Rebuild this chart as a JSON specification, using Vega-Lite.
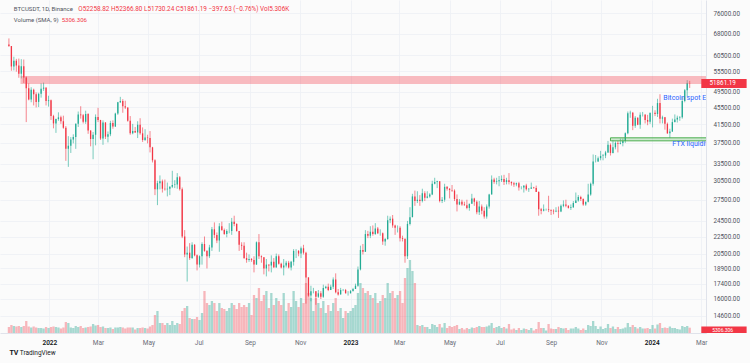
{
"$schema":"https://vega.github.io/schema/vega-lite/v6.json",
"width":706,"height":333,
"autosize":{"type":"none"},
"padding":{"left":0,"top":0,"right":44,"bottom":30},
"background":"#fbfbfb",
"config":{"view":{"stroke":null},"font":"Roboto"},
"datasets":{"btc":[
{"t":"2021-11-13","o":64100,"h":66300,"l":63300,"c":63600,"v":6000},
{"t":"2021-11-16","o":63600,"h":63600,"l":55600,"c":56900,"v":8000},
{"t":"2021-11-19","o":56900,"h":60000,"l":55700,"c":58700,"v":7000},
{"t":"2021-11-22","o":58700,"h":59300,"l":55300,"c":57200,"v":6500},
{"t":"2021-11-25","o":57200,"h":59400,"l":53500,"c":54700,"v":7000},
{"t":"2021-11-28","o":54700,"h":59200,"l":53300,"c":57000,"v":6000},
{"t":"2021-12-01","o":57000,"h":59100,"l":52000,"c":53600,"v":7000},
{"t":"2021-12-04","o":53600,"h":53900,"l":42000,"c":50500,"v":12000},
{"t":"2021-12-07","o":50500,"h":51900,"l":47300,"c":47500,"v":6500},
{"t":"2021-12-10","o":47500,"h":50800,"l":46800,"c":50100,"v":5500},
{"t":"2021-12-13","o":50100,"h":50400,"l":46000,"c":48900,"v":6500},
{"t":"2021-12-16","o":48900,"h":49400,"l":45500,"c":46900,"v":5500},
{"t":"2021-12-19","o":46900,"h":49300,"l":45600,"c":49000,"v":5000},
{"t":"2021-12-22","o":49000,"h":51900,"l":48000,"c":50400,"v":5000},
{"t":"2021-12-25","o":50400,"h":52100,"l":49800,"c":50700,"v":4500},
{"t":"2021-12-28","o":50700,"h":50700,"l":46000,"c":47100,"v":6000},
{"t":"2021-12-31","o":47100,"h":48500,"l":45700,"c":47300,"v":5000},
{"t":"2022-01-03","o":47300,"h":47500,"l":42500,"c":43400,"v":6000},
{"t":"2022-01-06","o":43400,"h":43700,"l":40600,"c":41700,"v":6500},
{"t":"2022-01-09","o":41700,"h":42800,"l":39600,"c":42700,"v":6000},
{"t":"2022-01-12","o":42700,"h":44300,"l":42300,"c":43100,"v":5500},
{"t":"2022-01-15","o":43100,"h":43500,"l":41600,"c":42200,"v":4500},
{"t":"2022-01-18","o":42200,"h":43500,"l":40500,"c":40700,"v":5500},
{"t":"2022-01-21","o":40700,"h":41100,"l":34000,"c":36300,"v":11000},
{"t":"2022-01-24","o":36300,"h":38900,"l":32900,"c":36900,"v":10000},
{"t":"2022-01-27","o":36900,"h":38700,"l":35500,"c":38200,"v":5500},
{"t":"2022-01-30","o":38200,"h":39300,"l":37400,"c":38700,"v":5000},
{"t":"2022-02-02","o":38700,"h":41700,"l":36300,"c":41600,"v":7000},
{"t":"2022-02-05","o":41600,"h":44500,"l":40900,"c":43800,"v":6000},
{"t":"2022-02-08","o":43800,"h":45800,"l":42800,"c":43600,"v":7000},
{"t":"2022-02-11","o":43600,"h":43900,"l":41700,"c":42100,"v":5000},
{"t":"2022-02-14","o":42100,"h":44700,"l":41600,"c":43900,"v":5500},
{"t":"2022-02-17","o":43900,"h":44100,"l":39400,"c":40100,"v":6000},
{"t":"2022-02-20","o":40100,"h":40200,"l":36800,"c":38300,"v":6500},
{"t":"2022-02-23","o":38300,"h":39800,"l":34300,"c":39200,"v":9000},
{"t":"2022-02-26","o":39200,"h":43800,"l":37000,"c":43200,"v":7500},
{"t":"2022-03-01","o":43200,"h":45400,"l":42000,"c":42500,"v":8000},
{"t":"2022-03-04","o":42500,"h":42500,"l":38100,"c":38400,"v":6000},
{"t":"2022-03-07","o":38400,"h":42400,"l":37100,"c":41900,"v":6500},
{"t":"2022-03-10","o":41900,"h":42000,"l":38300,"c":38800,"v":5000},
{"t":"2022-03-13","o":38800,"h":39900,"l":37600,"c":39300,"v":5000},
{"t":"2022-03-16","o":39300,"h":42300,"l":38900,"c":41800,"v":5500},
{"t":"2022-03-19","o":41800,"h":42400,"l":40500,"c":41000,"v":4000},
{"t":"2022-03-22","o":41000,"h":44200,"l":40900,"c":44000,"v":5500},
{"t":"2022-03-25","o":44000,"h":46900,"l":43700,"c":46800,"v":5500},
{"t":"2022-03-28","o":46800,"h":48200,"l":46600,"c":47100,"v":6000},
{"t":"2022-03-31","o":47100,"h":47600,"l":44200,"c":45800,"v":5500},
{"t":"2022-04-03","o":45800,"h":47200,"l":45100,"c":45500,"v":4500},
{"t":"2022-04-06","o":45500,"h":45500,"l":42100,"c":42300,"v":5500},
{"t":"2022-04-09","o":42300,"h":43400,"l":39200,"c":39500,"v":5500},
{"t":"2022-04-12","o":39500,"h":41600,"l":39300,"c":40000,"v":5500},
{"t":"2022-04-15","o":40000,"h":40900,"l":39600,"c":39700,"v":3500},
{"t":"2022-04-18","o":39700,"h":42200,"l":38500,"c":41400,"v":5000},
{"t":"2022-04-21","o":41400,"h":42900,"l":39200,"c":39500,"v":5000},
{"t":"2022-04-24","o":39500,"h":40800,"l":37700,"c":38100,"v":5500},
{"t":"2022-04-27","o":38100,"h":40400,"l":37900,"c":38600,"v":5000},
{"t":"2022-04-30","o":38600,"h":39200,"l":37400,"c":38500,"v":4500},
{"t":"2022-05-03","o":38500,"h":40000,"l":35600,"c":36600,"v":6500},
{"t":"2022-05-06","o":36600,"h":36700,"l":33700,"c":34100,"v":8000},
{"t":"2022-05-09","o":34100,"h":34300,"l":28200,"c":29100,"v":18000},
{"t":"2022-05-12","o":29100,"h":30500,"l":26700,"c":30100,"v":22000},
{"t":"2022-05-15","o":30100,"h":31400,"l":29100,"c":30400,"v":10000},
{"t":"2022-05-18","o":30400,"h":30700,"l":28600,"c":29200,"v":10000},
{"t":"2022-05-21","o":29200,"h":30700,"l":28900,"c":29100,"v":8000},
{"t":"2022-05-24","o":29100,"h":30200,"l":28000,"c":29200,"v":10000},
{"t":"2022-05-27","o":29200,"h":29600,"l":28200,"c":29500,"v":8000},
{"t":"2022-05-30","o":29500,"h":32200,"l":29300,"c":29800,"v":12000},
{"t":"2022-06-02","o":29800,"h":30600,"l":29300,"c":29900,"v":8000},
{"t":"2022-06-05","o":29900,"h":31800,"l":29200,"c":31100,"v":10000},
{"t":"2022-06-08","o":31100,"h":31300,"l":28900,"c":29100,"v":9000},
{"t":"2022-06-11","o":29100,"h":29400,"l":22300,"c":22500,"v":22000},
{"t":"2022-06-14","o":22500,"h":23300,"l":20100,"c":20400,"v":25000},
{"t":"2022-06-17","o":20400,"h":21300,"l":17600,"c":20600,"v":27000},
{"t":"2022-06-20","o":20600,"h":21700,"l":19800,"c":20000,"v":15000},
{"t":"2022-06-23","o":20000,"h":21800,"l":19900,"c":21500,"v":14000},
{"t":"2022-06-26","o":21500,"h":21600,"l":20200,"c":20300,"v":14000},
{"t":"2022-06-29","o":20300,"h":20400,"l":18700,"c":19300,"v":16000},
{"t":"2022-07-02","o":19300,"h":20300,"l":19000,"c":20200,"v":13000},
{"t":"2022-07-05","o":20200,"h":21800,"l":19300,"c":21600,"v":20000},
{"t":"2022-07-08","o":21600,"h":22500,"l":20700,"c":20800,"v":42000},
{"t":"2022-07-11","o":20800,"h":20900,"l":18900,"c":20200,"v":30000},
{"t":"2022-07-14","o":20200,"h":21500,"l":20000,"c":21200,"v":28000},
{"t":"2022-07-17","o":21200,"h":23700,"l":20800,"c":23400,"v":32000},
{"t":"2022-07-20","o":23400,"h":24300,"l":22300,"c":22700,"v":30000},
{"t":"2022-07-23","o":22700,"h":23000,"l":21700,"c":22000,"v":22000},
{"t":"2022-07-26","o":22000,"h":24200,"l":20700,"c":23800,"v":30000},
{"t":"2022-07-29","o":23800,"h":24400,"l":23200,"c":23300,"v":25000},
{"t":"2022-08-01","o":23300,"h":23500,"l":22700,"c":22800,"v":24000},
{"t":"2022-08-04","o":22800,"h":23400,"l":22400,"c":23200,"v":22000},
{"t":"2022-08-07","o":23200,"h":24200,"l":22900,"c":23200,"v":25000},
{"t":"2022-08-10","o":23200,"h":24900,"l":22700,"c":24400,"v":30000},
{"t":"2022-08-13","o":24400,"h":25200,"l":23800,"c":24100,"v":28000},
{"t":"2022-08-16","o":24100,"h":24200,"l":23100,"c":23200,"v":24000},
{"t":"2022-08-19","o":23200,"h":23200,"l":20800,"c":21500,"v":30000},
{"t":"2022-08-22","o":21500,"h":21800,"l":20900,"c":21400,"v":26000},
{"t":"2022-08-25","o":21400,"h":21800,"l":19900,"c":20000,"v":28000},
{"t":"2022-08-28","o":20000,"h":20600,"l":19500,"c":19800,"v":26000},
{"t":"2022-08-31","o":19800,"h":20400,"l":19600,"c":19900,"v":30000},
{"t":"2022-09-03","o":19900,"h":20000,"l":19600,"c":19800,"v":18000},
{"t":"2022-09-06","o":19800,"h":20200,"l":18500,"c":19300,"v":38000},
{"t":"2022-09-09","o":19300,"h":21900,"l":19300,"c":21800,"v":35000},
{"t":"2022-09-12","o":21800,"h":22800,"l":19900,"c":20200,"v":45000},
{"t":"2022-09-15","o":20200,"h":20300,"l":19500,"c":20100,"v":32000},
{"t":"2022-09-18","o":20100,"h":20100,"l":18300,"c":18900,"v":38000},
{"t":"2022-09-21","o":18900,"h":19900,"l":18100,"c":19300,"v":42000},
{"t":"2022-09-24","o":19300,"h":19300,"l":18600,"c":19200,"v":25000},
{"t":"2022-09-27","o":19200,"h":20300,"l":18500,"c":19600,"v":40000},
{"t":"2022-09-30","o":19600,"h":20000,"l":19000,"c":19000,"v":28000},
{"t":"2022-10-03","o":19000,"h":20500,"l":19000,"c":20200,"v":35000},
{"t":"2022-10-06","o":20200,"h":20400,"l":19300,"c":19400,"v":32000},
{"t":"2022-10-09","o":19400,"h":19500,"l":18900,"c":19000,"v":28000},
{"t":"2022-10-12","o":19000,"h":19900,"l":18200,"c":19200,"v":40000},
{"t":"2022-10-15","o":19200,"h":19700,"l":19000,"c":19500,"v":22000},
{"t":"2022-10-18","o":19500,"h":19700,"l":18900,"c":19000,"v":30000},
{"t":"2022-10-21","o":19000,"h":19700,"l":18700,"c":19600,"v":26000},
{"t":"2022-10-24","o":19600,"h":21000,"l":19200,"c":20800,"v":42000},
{"t":"2022-10-27","o":20800,"h":21000,"l":20000,"c":20800,"v":32000},
{"t":"2022-10-30","o":20800,"h":20900,"l":20200,"c":20500,"v":26000},
{"t":"2022-11-02","o":20500,"h":21300,"l":20000,"c":21100,"v":35000},
{"t":"2022-11-05","o":21100,"h":21500,"l":20400,"c":20600,"v":30000},
{"t":"2022-11-08","o":20600,"h":20700,"l":15600,"c":18000,"v":50000},
{"t":"2022-11-11","o":18000,"h":18000,"l":16200,"c":16300,"v":40000},
{"t":"2022-11-14","o":16300,"h":17200,"l":15800,"c":16700,"v":35000},
{"t":"2022-11-17","o":16700,"h":17000,"l":16500,"c":16700,"v":22000},
{"t":"2022-11-20","o":16700,"h":16700,"l":15500,"c":16200,"v":35000},
{"t":"2022-11-23","o":16200,"h":16800,"l":16100,"c":16500,"v":30000},
{"t":"2022-11-26","o":16500,"h":16700,"l":16000,"c":16200,"v":25000},
{"t":"2022-11-29","o":16200,"h":17300,"l":16100,"c":17000,"v":32000},
{"t":"2022-12-02","o":17000,"h":17200,"l":16900,"c":17100,"v":20000},
{"t":"2022-12-05","o":17100,"h":17400,"l":16700,"c":16800,"v":28000},
{"t":"2022-12-08","o":16800,"h":17300,"l":16800,"c":17100,"v":22000},
{"t":"2022-12-11","o":17100,"h":18000,"l":16900,"c":17800,"v":30000},
{"t":"2022-12-14","o":17800,"h":18400,"l":16500,"c":16600,"v":35000},
{"t":"2022-12-17","o":16600,"h":16900,"l":16300,"c":16400,"v":22000},
{"t":"2022-12-20","o":16400,"h":17000,"l":16400,"c":16800,"v":25000},
{"t":"2022-12-23","o":16800,"h":16900,"l":16700,"c":16800,"v":15000},
{"t":"2022-12-26","o":16800,"h":16900,"l":16500,"c":16500,"v":22000},
{"t":"2022-12-29","o":16500,"h":16700,"l":16300,"c":16500,"v":20000},
{"t":"2023-01-01","o":16500,"h":16800,"l":16500,"c":16700,"v":22000},
{"t":"2023-01-04","o":16700,"h":17000,"l":16700,"c":16900,"v":25000},
{"t":"2023-01-07","o":16900,"h":17400,"l":16900,"c":17200,"v":28000},
{"t":"2023-01-10","o":17200,"h":19100,"l":17100,"c":18800,"v":40000},
{"t":"2023-01-13","o":18800,"h":21400,"l":18700,"c":20900,"v":50000},
{"t":"2023-01-16","o":20900,"h":21600,"l":20400,"c":20700,"v":45000},
{"t":"2023-01-19","o":20700,"h":23300,"l":20700,"c":22800,"v":40000},
{"t":"2023-01-22","o":22800,"h":23200,"l":22300,"c":22600,"v":42000},
{"t":"2023-01-25","o":22600,"h":23800,"l":22300,"c":23100,"v":38000},
{"t":"2023-01-28","o":23100,"h":23900,"l":22600,"c":22800,"v":35000},
{"t":"2023-01-31","o":22800,"h":24200,"l":22700,"c":23500,"v":40000},
{"t":"2023-02-03","o":23500,"h":23700,"l":22800,"c":22900,"v":30000},
{"t":"2023-02-06","o":22900,"h":23400,"l":22600,"c":22900,"v":32000},
{"t":"2023-02-09","o":22900,"h":23000,"l":21500,"c":21900,"v":38000},
{"t":"2023-02-12","o":21900,"h":22300,"l":21400,"c":22200,"v":35000},
{"t":"2023-02-15","o":22200,"h":25200,"l":22100,"c":24600,"v":50000},
{"t":"2023-02-18","o":24600,"h":25100,"l":24200,"c":24800,"v":40000},
{"t":"2023-02-21","o":24800,"h":25300,"l":23600,"c":23900,"v":42000},
{"t":"2023-02-24","o":23900,"h":24000,"l":22700,"c":23600,"v":35000},
{"t":"2023-02-27","o":23600,"h":23900,"l":23000,"c":23600,"v":38000},
{"t":"2023-03-02","o":23600,"h":23800,"l":21900,"c":22300,"v":42000},
{"t":"2023-03-05","o":22300,"h":22600,"l":21900,"c":22200,"v":30000},
{"t":"2023-03-08","o":22200,"h":22300,"l":19500,"c":20200,"v":55000},
{"t":"2023-03-11","o":20200,"h":24500,"l":19900,"c":24100,"v":65000},
{"t":"2023-03-14","o":24100,"h":26400,"l":23900,"c":25000,"v":73000},
{"t":"2023-03-17","o":25000,"h":28400,"l":25000,"c":28000,"v":62000},
{"t":"2023-03-20","o":28000,"h":28900,"l":26600,"c":27300,"v":50000},
{"t":"2023-03-23","o":27300,"h":28800,"l":27000,"c":27500,"v":8000},
{"t":"2023-03-26","o":27500,"h":28200,"l":26600,"c":27300,"v":7000},
{"t":"2023-03-29","o":27300,"h":29200,"l":27100,"c":28500,"v":8000},
{"t":"2023-04-01","o":28500,"h":28800,"l":27300,"c":27800,"v":6000},
{"t":"2023-04-04","o":27800,"h":28800,"l":27700,"c":28000,"v":6000},
{"t":"2023-04-07","o":28000,"h":28500,"l":27800,"c":28300,"v":4000},
{"t":"2023-04-10","o":28300,"h":30500,"l":28200,"c":30000,"v":9000},
{"t":"2023-04-13","o":30000,"h":31000,"l":29900,"c":30300,"v":8000},
{"t":"2023-04-16","o":30300,"h":30500,"l":29300,"c":30400,"v":6000},
{"t":"2023-04-19","o":30400,"h":30400,"l":27100,"c":27300,"v":9000},
{"t":"2023-04-22","o":27300,"h":27900,"l":27000,"c":27500,"v":5500},
{"t":"2023-04-25","o":27500,"h":30000,"l":27200,"c":29500,"v":10000},
{"t":"2023-04-28","o":29500,"h":29600,"l":28900,"c":29200,"v":5000},
{"t":"2023-05-01","o":29200,"h":29300,"l":27700,"c":29000,"v":7000},
{"t":"2023-05-04","o":29000,"h":29800,"l":28700,"c":28900,"v":6000},
{"t":"2023-05-07","o":28900,"h":29100,"l":27300,"c":27600,"v":7000},
{"t":"2023-05-10","o":27600,"h":28300,"l":25800,"c":26800,"v":8000},
{"t":"2023-05-13","o":26800,"h":27600,"l":26700,"c":27200,"v":4000},
{"t":"2023-05-16","o":27200,"h":27500,"l":26600,"c":26800,"v":5000},
{"t":"2023-05-19","o":26800,"h":27200,"l":26600,"c":26700,"v":3500},
{"t":"2023-05-22","o":26700,"h":27500,"l":26100,"c":26300,"v":5000},
{"t":"2023-05-25","o":26300,"h":26900,"l":25900,"c":26900,"v":4000},
{"t":"2023-05-28","o":26900,"h":28400,"l":26900,"c":27700,"v":5500},
{"t":"2023-05-31","o":27700,"h":27800,"l":26600,"c":27200,"v":5000},
{"t":"2023-06-03","o":27200,"h":27400,"l":25400,"c":25700,"v":6000},
{"t":"2023-06-06","o":25700,"h":27300,"l":25300,"c":26500,"v":7000},
{"t":"2023-06-09","o":26500,"h":26800,"l":25400,"c":25900,"v":6000},
{"t":"2023-06-12","o":25900,"h":26400,"l":24800,"c":25100,"v":6000},
{"t":"2023-06-15","o":25100,"h":26800,"l":24800,"c":26500,"v":6500},
{"t":"2023-06-18","o":26500,"h":28400,"l":26200,"c":28300,"v":7500},
{"t":"2023-06-21","o":28300,"h":31400,"l":28300,"c":30700,"v":10000},
{"t":"2023-06-24","o":30700,"h":31000,"l":30000,"c":30300,"v":5000},
{"t":"2023-06-27","o":30300,"h":31000,"l":29900,"c":30400,"v":6000},
{"t":"2023-06-30","o":30400,"h":31300,"l":29600,"c":30600,"v":7000},
{"t":"2023-07-03","o":30600,"h":31400,"l":30300,"c":30800,"v":5000},
{"t":"2023-07-06","o":30800,"h":31500,"l":29800,"c":30300,"v":6000},
{"t":"2023-07-09","o":30300,"h":31000,"l":29900,"c":30600,"v":4500},
{"t":"2023-07-12","o":30600,"h":31800,"l":29900,"c":30300,"v":9000},
{"t":"2023-07-15","o":30300,"h":30400,"l":29700,"c":30100,"v":3500},
{"t":"2023-07-18","o":30100,"h":30300,"l":29500,"c":29900,"v":4500},
{"t":"2023-07-21","o":29900,"h":30200,"l":29600,"c":30100,"v":3000},
{"t":"2023-07-24","o":30100,"h":30300,"l":28900,"c":29400,"v":5000},
{"t":"2023-07-27","o":29400,"h":29600,"l":29100,"c":29400,"v":3000},
{"t":"2023-07-30","o":29400,"h":29700,"l":28600,"c":29700,"v":4500},
{"t":"2023-08-02","o":29700,"h":30000,"l":28900,"c":29100,"v":4000},
{"t":"2023-08-05","o":29100,"h":29300,"l":28700,"c":29200,"v":3000},
{"t":"2023-08-08","o":29200,"h":30200,"l":29200,"c":29400,"v":5000},
{"t":"2023-08-11","o":29400,"h":29500,"l":29200,"c":29300,"v":2500},
{"t":"2023-08-14","o":29300,"h":29700,"l":28700,"c":28700,"v":4000},
{"t":"2023-08-17","o":28700,"h":28800,"l":25200,"c":26100,"v":11000},
{"t":"2023-08-20","o":26100,"h":26300,"l":25400,"c":25900,"v":5000},
{"t":"2023-08-23","o":25900,"h":26800,"l":25800,"c":26100,"v":5000},
{"t":"2023-08-26","o":26100,"h":26200,"l":25900,"c":26100,"v":2500},
{"t":"2023-08-29","o":26100,"h":28100,"l":25700,"c":26000,"v":9000},
{"t":"2023-09-01","o":26000,"h":26100,"l":25300,"c":25900,"v":4500},
{"t":"2023-09-04","o":25900,"h":26100,"l":25400,"c":25800,"v":4000},
{"t":"2023-09-07","o":25800,"h":26400,"l":25700,"c":25900,"v":4000},
{"t":"2023-09-10","o":25900,"h":26500,"l":24900,"c":25800,"v":6000},
{"t":"2023-09-13","o":25800,"h":26800,"l":25700,"c":26600,"v":5000},
{"t":"2023-09-16","o":26600,"h":27400,"l":26400,"c":26800,"v":4500},
{"t":"2023-09-19","o":26800,"h":27500,"l":26400,"c":26600,"v":5000},
{"t":"2023-09-22","o":26600,"h":26700,"l":26200,"c":26300,"v":3000},
{"t":"2023-09-25","o":26300,"h":26800,"l":26000,"c":26400,"v":4500},
{"t":"2023-09-28","o":26400,"h":27300,"l":26300,"c":27000,"v":4500},
{"t":"2023-10-01","o":27000,"h":28600,"l":27000,"c":27400,"v":6000},
{"t":"2023-10-04","o":27400,"h":28200,"l":27200,"c":27900,"v":4500},
{"t":"2023-10-07","o":27900,"h":28100,"l":27300,"c":27600,"v":3000},
{"t":"2023-10-10","o":27600,"h":27700,"l":26600,"c":26800,"v":4500},
{"t":"2023-10-13","o":26800,"h":27200,"l":26600,"c":27200,"v":3000},
{"t":"2023-10-16","o":27200,"h":30000,"l":27100,"c":28300,"v":8000},
{"t":"2023-10-19","o":28300,"h":30200,"l":28100,"c":30000,"v":7000},
{"t":"2023-10-22","o":30000,"h":35200,"l":29700,"c":33900,"v":12000},
{"t":"2023-10-25","o":33900,"h":35100,"l":33700,"c":33900,"v":7000},
{"t":"2023-10-28","o":33900,"h":34800,"l":33800,"c":34500,"v":4000},
{"t":"2023-10-31","o":34500,"h":35900,"l":34100,"c":34900,"v":6500},
{"t":"2023-11-03","o":34900,"h":35300,"l":34100,"c":35000,"v":4000},
{"t":"2023-11-06","o":35000,"h":35900,"l":34500,"c":35600,"v":5000},
{"t":"2023-11-09","o":35600,"h":37900,"l":35500,"c":37100,"v":9000},
{"t":"2023-11-12","o":37100,"h":37400,"l":35000,"c":35500,"v":5000},
{"t":"2023-11-15","o":35500,"h":38000,"l":35400,"c":36600,"v":6500},
{"t":"2023-11-18","o":36600,"h":37800,"l":36200,"c":37500,"v":4000},
{"t":"2023-11-21","o":37500,"h":37900,"l":35600,"c":37300,"v":6000},
{"t":"2023-11-24","o":37300,"h":38400,"l":37200,"c":37500,"v":4000},
{"t":"2023-11-27","o":37500,"h":38400,"l":36800,"c":37900,"v":4500},
{"t":"2023-11-30","o":37900,"h":39700,"l":37500,"c":39500,"v":5500},
{"t":"2023-12-03","o":39500,"h":44500,"l":39300,"c":44100,"v":10000},
{"t":"2023-12-06","o":44100,"h":44700,"l":43000,"c":44200,"v":6000},
{"t":"2023-12-09","o":44200,"h":44400,"l":40200,"c":41200,"v":8000},
{"t":"2023-12-12","o":41200,"h":43400,"l":40700,"c":43000,"v":6000},
{"t":"2023-12-15","o":43000,"h":43100,"l":41300,"c":41400,"v":4500},
{"t":"2023-12-18","o":41400,"h":44300,"l":40500,"c":43700,"v":6000},
{"t":"2023-12-21","o":43700,"h":44400,"l":43300,"c":43700,"v":4500},
{"t":"2023-12-24","o":43700,"h":43900,"l":41700,"c":42500,"v":4500},
{"t":"2023-12-27","o":42500,"h":43700,"l":41300,"c":42100,"v":5000},
{"t":"2023-12-30","o":42100,"h":44200,"l":41600,"c":44200,"v":4000},
{"t":"2024-01-02","o":44200,"h":45900,"l":40800,"c":44200,"v":8000},
{"t":"2024-01-05","o":44200,"h":44800,"l":43400,"c":43900,"v":4500},
{"t":"2024-01-08","o":43900,"h":47700,"l":43200,"c":46600,"v":8500},
{"t":"2024-01-11","o":46600,"h":48900,"l":41700,"c":42800,"v":10000},
{"t":"2024-01-14","o":42800,"h":43500,"l":41700,"c":43100,"v":5000},
{"t":"2024-01-17","o":43100,"h":43200,"l":40300,"c":41600,"v":5500},
{"t":"2024-01-20","o":41600,"h":41900,"l":39400,"c":39500,"v":5000},
{"t":"2024-01-23","o":39500,"h":40500,"l":38500,"c":39900,"v":6500},
{"t":"2024-01-26","o":39900,"h":42800,"l":39800,"c":42000,"v":5000},
{"t":"2024-01-29","o":42000,"h":43800,"l":41900,"c":42600,"v":5000},
{"t":"2024-02-01","o":42600,"h":43500,"l":41900,"c":43000,"v":4000},
{"t":"2024-02-04","o":43000,"h":43400,"l":42300,"c":43100,"v":3500},
{"t":"2024-02-07","o":43100,"h":48200,"l":42800,"c":47100,"v":7000},
{"t":"2024-02-10","o":47100,"h":50300,"l":46800,"c":50000,"v":6000},
{"t":"2024-02-13","o":50000,"h":52800,"l":48300,"c":51900,"v":7000},
{"t":"2024-02-16","o":51900,"h":52600,"l":50600,"c":51861.19,"v":5306}
]},
"layer":[
 {"layer":[
  {"data":{"name":"btc"},
   "mark":{"type":"bar","width":2.3,"opacity":0.35},
   "encoding":{
    "x":{"field":"t","type":"temporal","title":null,
     "scale":{"type":"utc","domain":[{"year":2021,"month":11,"date":8,"hours":6,"utc":true},{"year":2024,"month":2,"date":29,"hours":17,"utc":true}]},
     "axis":{"values":[
       {"year":2022,"month":1,"date":1,"utc":true},{"year":2022,"month":3,"date":1,"utc":true},{"year":2022,"month":5,"date":1,"utc":true},{"year":2022,"month":7,"date":1,"utc":true},{"year":2022,"month":9,"date":1,"utc":true},{"year":2022,"month":11,"date":1,"utc":true},
       {"year":2023,"month":1,"date":1,"utc":true},{"year":2023,"month":3,"date":1,"utc":true},{"year":2023,"month":5,"date":1,"utc":true},{"year":2023,"month":7,"date":1,"utc":true},{"year":2023,"month":9,"date":1,"utc":true},{"year":2023,"month":11,"date":1,"utc":true},
       {"year":2024,"month":1,"date":1,"utc":true},{"year":2024,"month":3,"date":1,"utc":true}],
      "labelExpr":"utcmonth(datum.value) == 0 ? utcFormat(datum.value, '%Y') : utcFormat(datum.value, '%b')",
      "labelFontSize":6.5,"labelFont":"Roboto",
      "labelColor":{"condition":{"test":"utcmonth(datum.value) == 0","value":"#131722"},"value":"#6a6d78"},
      "labelFontWeight":{"condition":{"test":"utcmonth(datum.value) == 0","value":600},"value":400},
      "ticks":false,"domain":true,"domainColor":"#e0e3eb","grid":true,"gridColor":"#eef0f5","gridWidth":0.8,
      "labelPadding":6,"labelOverlap":false,"labelFlush":false}},
    "y":{"field":"v","type":"quantitative","scale":{"domain":[0,333000],"nice":false},"axis":null},
    "color":{"condition":{"test":"datum.c >= datum.o","value":"#089981"},"value":"#f23645"}
   }},
  {"data":{"values":[{}]},
   "mark":{"type":"rect","color":"#f23645"},
   "encoding":{
    "x":{"datum":{"year":2024,"month":3,"date":1,"hours":2,"utc":true},"type":"temporal"},
    "x2":{"datum":{"year":2024,"month":4,"date":25,"utc":true}},
    "y":{"datum":0,"type":"quantitative"},
    "y2":{"datum":6500}}},
  {"data":{"values":[{}]},
   "mark":{"type":"text","text":"5306.306","color":"#ffffff","fontSize":5,"align":"center","baseline":"middle","font":"Roboto"},
   "encoding":{
    "x":{"datum":{"year":2024,"month":3,"date":27,"utc":true},"type":"temporal"},
    "y":{"datum":3250,"type":"quantitative"}}}
 ]},
 {"layer":[
  {"data":{"name":"btc"},
   "mark":{"type":"rule","strokeWidth":0.6},
   "encoding":{
    "x":{"field":"t","type":"temporal"},
    "y":{"field":"l","type":"quantitative","title":null,
     "scale":{"type":"log","domain":[13290,81770],"nice":false},
     "axis":{"orient":"right","values":[76000,68000,60500,55500,49500,45500,41500,37500,33500,30500,27500,24500,22500,20500,18900,17400,16000,14600],
      "format":".2f","labelFontSize":6.3,"labelFont":"Roboto","labelColor":"#50535e","ticks":false,"domain":true,"domainColor":"#e0e3eb",
      "grid":true,"gridColor":"#eef0f5","gridWidth":0.8,"labelPadding":7,"labelFlush":false,"labelOverlap":false}},
    "y2":{"field":"h"},
    "color":{"condition":{"test":"datum.c >= datum.o","value":"#22ab94"},"value":"#f23645"}
   }},
  {"data":{"name":"btc"},
   "mark":{"type":"bar","width":1.3},
   "encoding":{
    "x":{"field":"t","type":"temporal"},
    "y":{"field":"o","type":"quantitative"},
    "y2":{"field":"c"},
    "color":{"condition":{"test":"datum.c >= datum.o","value":"#22ab94"},"value":"#f23645"}
   }},
  {"data":{"values":[{}]},
   "mark":{"type":"rect","color":"#f23645","opacity":0.33,"clip":true},
   "encoding":{
    "x":{"datum":{"year":2021,"month":11,"date":27,"utc":true},"type":"temporal"},
    "x2":{"datum":{"year":2024,"month":6,"date":1,"utc":true}},
    "y":{"datum":51720,"type":"quantitative"},
    "y2":{"datum":54020}}},
  {"data":{"values":[{}]},
   "mark":{"type":"rect","fill":"#4caf50","fillOpacity":0.25,"stroke":"#4caf50","strokeWidth":1,"clip":true},
   "encoding":{
    "x":{"datum":{"year":2023,"month":11,"date":12,"utc":true},"type":"temporal"},
    "x2":{"datum":{"year":2024,"month":6,"date":1,"utc":true}},
    "y":{"datum":37920,"type":"quantitative"},
    "y2":{"datum":38550}}},
  {"data":{"values":[{}]},
   "mark":{"type":"text","text":"Bitcoin spot ETF","color":"#2962ff","fontSize":7,"align":"left","baseline":"middle","clip":true,"font":"Roboto"},
   "encoding":{
    "x":{"datum":{"year":2024,"month":1,"date":15,"utc":true},"type":"temporal"},
    "y":{"datum":47960,"type":"quantitative"}}},
  {"data":{"values":[{}]},
   "mark":{"type":"text","text":"FTX liquidity","color":"#2962ff","fontSize":7,"align":"left","baseline":"middle","clip":true,"font":"Roboto"},
   "encoding":{
    "x":{"datum":{"year":2024,"month":1,"date":26,"utc":true},"type":"temporal"},
    "y":{"datum":37300,"type":"quantitative"}}},
  {"data":{"values":[{}]},
   "mark":{"type":"rect","color":"#f23645"},
   "encoding":{
    "x":{"datum":{"year":2024,"month":3,"date":1,"hours":2,"utc":true},"type":"temporal"},
    "x2":{"datum":{"year":2024,"month":4,"date":25,"utc":true}},
    "y":{"datum":50600,"type":"quantitative"},
    "y2":{"datum":53150}}},
  {"data":{"values":[{}]},
   "mark":{"type":"text","text":"51861.19","color":"#ffffff","fontSize":6.3,"align":"center","baseline":"middle","font":"Roboto"},
   "encoding":{
    "x":{"datum":{"year":2024,"month":3,"date":27,"utc":true},"type":"temporal"},
    "y":{"datum":51861.19,"type":"quantitative"}}},
  {"data":{"values":[{}]},
   "mark":{"type":"text","text":"BTCUSDT, 1D, Binance","color":"#50535e","fontSize":6,"align":"left","baseline":"middle","font":"Roboto"},
   "encoding":{
    "x":{"datum":{"year":2021,"month":11,"date":19,"utc":true},"type":"temporal"},
    "y":{"datum":77900,"type":"quantitative"}}},
  {"data":{"values":[{}]},
   "mark":{"type":"text","text":"O52258.82 H52366.80 L51730.24 C51861.19 −397.63 (−0.76%) Vol5.306K","color":"#f23645","fontSize":6.4,"align":"left","baseline":"middle","font":"Roboto"},
   "encoding":{
    "x":{"datum":{"year":2022,"month":2,"date":5,"utc":true},"type":"temporal"},
    "y":{"datum":77900,"type":"quantitative"}}},
  {"data":{"values":[{}]},
   "mark":{"type":"text","text":"Volume (SMA, 9)","color":"#50535e","fontSize":6,"align":"left","baseline":"middle","font":"Roboto"},
   "encoding":{
    "x":{"datum":{"year":2021,"month":11,"date":19,"utc":true},"type":"temporal"},
    "y":{"datum":73130,"type":"quantitative"}}},
  {"data":{"values":[{}]},
   "mark":{"type":"text","text":"5306.306","color":"#f23645","fontSize":6,"align":"left","baseline":"middle","font":"Roboto"},
   "encoding":{
    "x":{"datum":{"year":2022,"month":1,"date":16,"utc":true},"type":"temporal"},
    "y":{"datum":73130,"type":"quantitative"}}},
  {"data":{"values":[{}]},
   "mark":{"type":"text","text":"TV","color":"#131722","fontSize":7,"fontWeight":"bold","align":"left","baseline":"middle","font":"Roboto"},
   "encoding":{
    "x":{"datum":{"year":2021,"month":11,"date":13,"hours":14,"utc":true},"type":"temporal"},
    "y":{"datum":11900,"type":"quantitative"}}},
  {"data":{"values":[{}]},
   "mark":{"type":"text","text":"TradingView","color":"#131722","fontSize":6.5,"align":"left","baseline":"middle","font":"Roboto"},
   "encoding":{
    "x":{"datum":{"year":2021,"month":11,"date":26,"hours":5,"utc":true},"type":"temporal"},
    "y":{"datum":11900,"type":"quantitative"}}}
 ]}
],
"resolve":{"scale":{"y":"independent"},"axis":{"y":"independent"}}
}
